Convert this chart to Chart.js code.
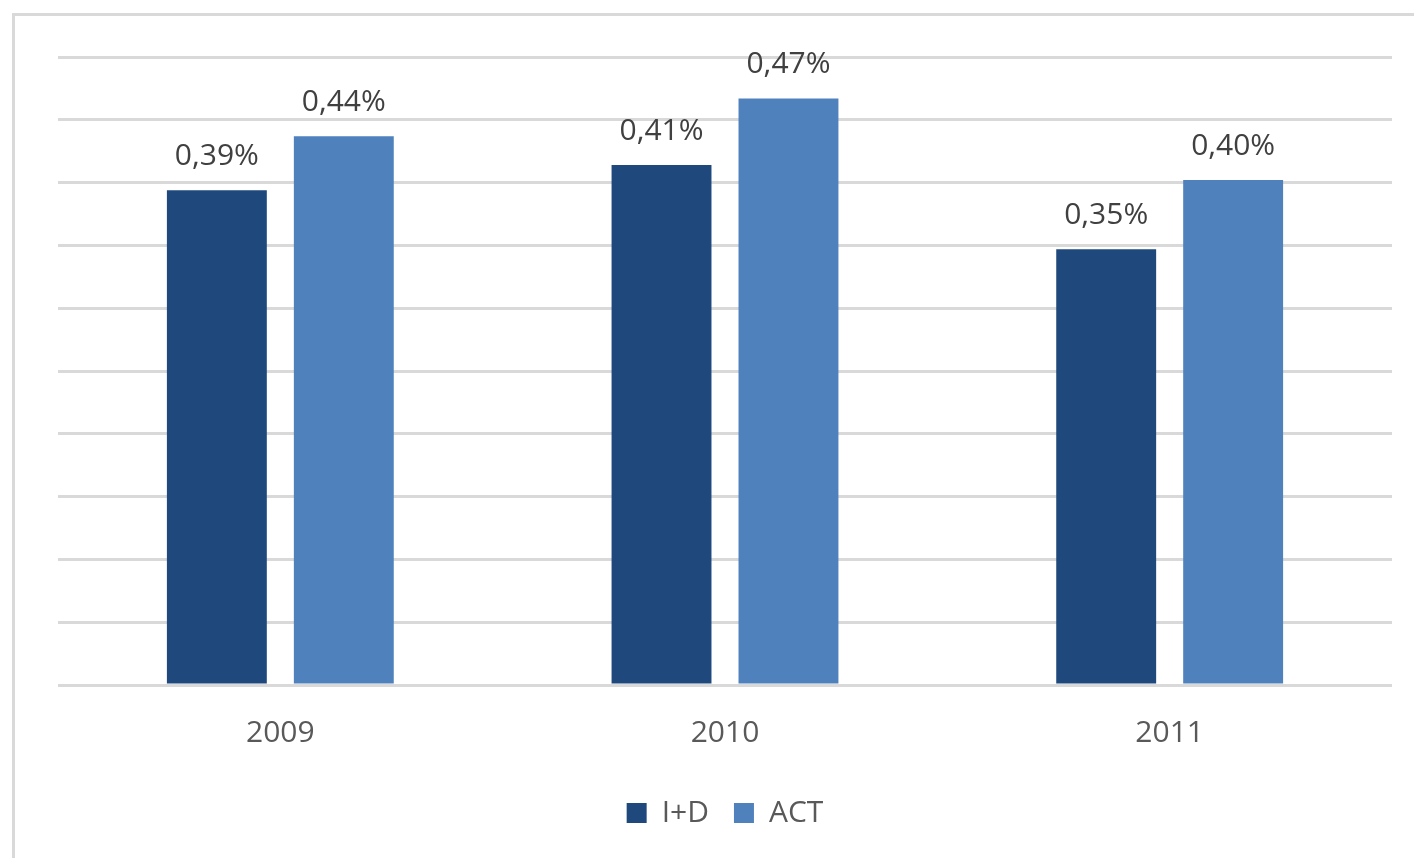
<!DOCTYPE html>
<html>
<head>
<meta charset="utf-8">
<script src="https://cdn.jsdelivr.net/npm/chart.js@4.4.1/dist/chart.umd.min.js"></script>
<style>
  html, body { margin: 0; padding: 0; background: #fff; overflow: hidden; }
  #frame {
    position: absolute; left: 12px; top: 13px; width: 1500px; height: 900px;
    border-left: 3px solid #d9d9d9; border-top: 3px solid #d9d9d9;
  }
  #wrap { position: absolute; left: 0; top: 0; width: 1414px; height: 858px; }
</style>
</head>
<body>
<div id="frame"></div>
<div id="wrap"><canvas id="chart"></canvas></div>
<script>
// ── Data ─────────────────────────────────────────────────────────
const years = ['2009', '2010', '2011'];
const idValues = [0.394, 0.414, 0.347];   // I+D, % of GDP
const actValues = [0.437, 0.467, 0.402];  // ACT, % of GDP
const yTicks = [0, 0.05, 0.1, 0.15, 0.2, 0.25, 0.3, 0.35, 0.4, 0.45, 0.5];

const FONT = "'Open Sans', 'Noto Sans', sans-serif";

// ── Value labels above bars ──────────────────────────────────────
const barLabels = {
  id: 'barLabels',
  afterDatasetsDraw(chart) {
    const ctx = chart.ctx;
    ctx.save();
    ctx.font = `30px ${FONT}`;
    ctx.fillStyle = '#404040';
    ctx.textAlign = 'center';
    ctx.textBaseline = 'alphabetic';
    chart.data.datasets.forEach((ds, i) => {
      chart.getDatasetMeta(i).data.forEach((bar, j) => {
        const txt = ds.data[j].toFixed(2).replace('.', ',') + '%';
        ctx.fillText(txt, bar.x, bar.y - 25);
      });
    });
    ctx.restore();
  }
};

new Chart(document.getElementById('chart'), {
  type: 'bar',
  data: {
    labels: years,
    datasets: [
      { label: 'I+D', data: idValues, backgroundColor: '#1f497d' },
      { label: 'ACT', data: actValues, backgroundColor: '#4f81bd' }
    ]
  },
  options: {
    responsive: true,
    maintainAspectRatio: false,
    animation: false,
    categoryPercentage: 0.571,
    barPercentage: 0.787,
    layout: { padding: { left: 58, right: 22, top: 57, bottom: 20 } },
    plugins: {
      legend: {
        position: 'bottom',
        labels: {
          boxWidth: 20, boxHeight: 20, padding: 25,
          color: '#595959', font: { family: FONT, size: 30 }
        }
      },
      tooltip: { enabled: false }
    },
    scales: {
      x: {
        grid: { display: false },
        border: { display: false },
        ticks: { color: '#595959', font: { family: FONT, size: 30 }, padding: 22 }
      },
      y: {
        min: 0, max: 0.5,
        afterBuildTicks: axis => { axis.ticks = yTicks.map(v => ({ value: v })); },
        ticks: { display: false },
        border: { display: false },
        grid: { color: '#d9d9d9', lineWidth: 3, drawTicks: false }
      }
    }
  },
  plugins: [barLabels]
});
</script>
</body>
</html>
